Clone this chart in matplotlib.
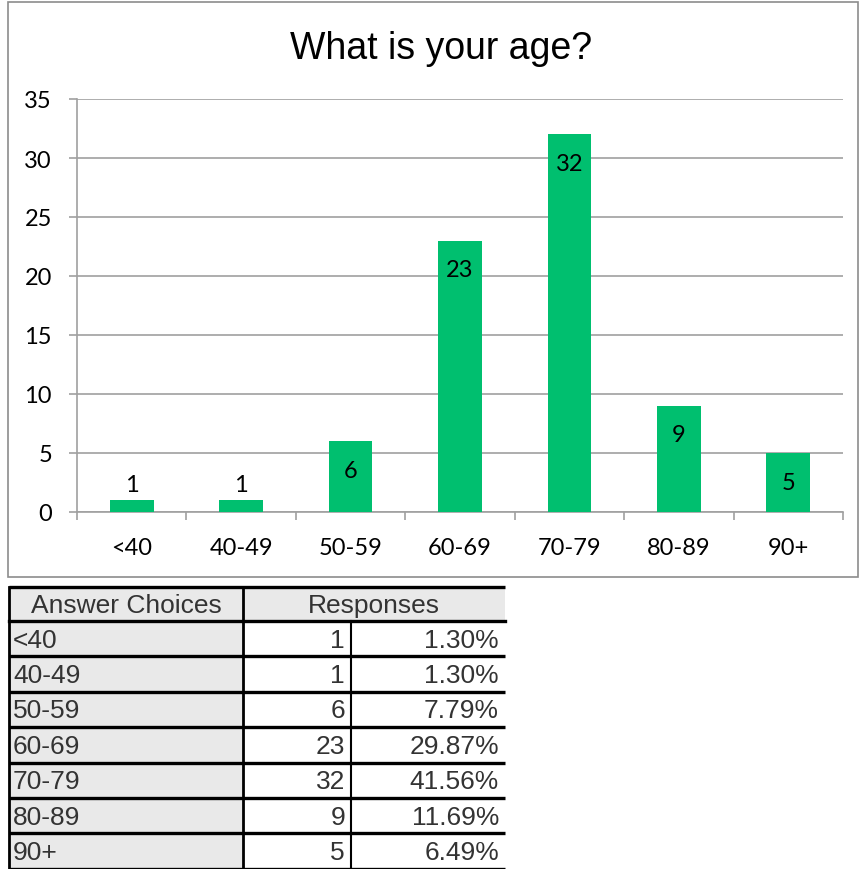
import matplotlib
matplotlib.use("Agg")
import matplotlib.pyplot as plt
from matplotlib.patches import Rectangle

# data
categories = ["<40", "40-49", "50-59", "60-69", "70-79", "80-89", "90+"]
counts = [1, 1, 6, 23, 32, 9, 5]
percents = ["1.30%", "1.30%", "7.79%", "29.87%", "41.56%", "11.69%", "6.49%"]

W, H = 860, 870
green = "#00BF6F"
grid_col = "#a0a0a0"
txt_col = "#333333"

fig = plt.figure(figsize=(W / 100, H / 100), dpi=100)

# overlay in pixel coordinates for the border and the table
ov = fig.add_axes([0, 0, 1, 1])
ov.set_xlim(0, W)
ov.set_ylim(H, 0)
ov.axis("off")

# chart frame
ov.add_patch(Rectangle((8, 3), 850, 575, fill=False, ec="#8c8c8c", lw=1.2))

# table
x0, x1, x2, x3 = 9, 243, 351, 505
top, head_h, row_h = 588, 34, 35.4
tfont = dict(family="Liberation Sans", fontsize=19, color=txt_col)

ov.add_patch(Rectangle((x0, top), x3 - x0, head_h, fc="#e9e9e9", ec="none"))
ov.text((x0 + x1) / 2, top + head_h / 2 + 1, "Answer Choices", ha="center", va="center", **tfont)
ov.text((x1 + x3) / 2, top + head_h / 2 + 1, "Responses", ha="center", va="center", **tfont)

for i, (cat, n, p) in enumerate(zip(categories, counts, percents)):
    y = top + head_h + i * row_h
    ov.add_patch(Rectangle((x0, y), x1 - x0, row_h, fc="#e9e9e9", ec="none"))
    ov.text(x0 + 4, y + row_h / 2 + 1, cat, ha="left", va="center", **tfont)
    ov.text(x2 - 6, y + row_h / 2 + 1, str(n), ha="right", va="center", **tfont)
    ov.text(x3 - 6, y + row_h / 2 + 1, p, ha="right", va="center", **tfont)

n_rows = len(categories)
for i in range(n_rows + 1):
    y = top + head_h + i * row_h if i > 0 else top
    ov.plot([x0, x3], [y, y], color="black", lw=2.4, solid_capstyle="butt")
ov.plot([x0, x3], [top + head_h, top + head_h], color="black", lw=2.4)
bottom_y = top + head_h + n_rows * row_h
ov.plot([x0, x0], [top, bottom_y], color="black", lw=2)
ov.plot([x1, x1], [top, bottom_y], color="black", lw=2)
ov.plot([x2, x2], [top + head_h, bottom_y], color="black", lw=1.5)

# bar chart
ax = fig.add_axes([77 / W, 1 - 513 / H, (843 - 77) / W, (513 - 100) / H])
xs = list(range(len(categories)))
bars = ax.bar(xs, counts, width=0.4, color=green, zorder=3)

for b, v in zip(bars, counts):
    cx = b.get_x() + b.get_width() / 2
    if v >= 3:
        ax.annotate(str(v), (cx, v), xytext=(0, -21), textcoords="offset points",
                    ha="center", va="center", fontsize=17, family="Lato", color="black", zorder=4)
    else:
        ax.annotate(str(v), (cx, v), xytext=(0, 11), textcoords="offset points",
                    ha="center", va="center", fontsize=17, family="Lato", color="black", zorder=4)

ax.set_xlim(-0.5, len(categories) - 0.5)
ax.set_ylim(0, 35)
ax.set_yticks(range(0, 36, 5))
ax.set_xticks(xs)
ax.set_xticklabels(categories, family="Lato", fontsize=17)
ax.set_xticks([i - 0.5 for i in range(len(categories) + 1)], minor=True)
ax.tick_params(axis="x", which="major", length=0, pad=18)
ax.tick_params(axis="x", which="minor", length=6, color=grid_col, width=1.2)
ax.tick_params(axis="y", length=6, color=grid_col, width=1.2, pad=12)
for lab in ax.get_yticklabels():
    lab.set_family("Lato")
    lab.set_fontsize(17)
ax.grid(axis="y", color=grid_col, lw=1.2, zorder=0)
for s in ["top", "right"]:
    ax.spines[s].set_visible(False)
for s in ["left", "bottom"]:
    ax.spines[s].set_color(grid_col)
    ax.spines[s].set_linewidth(1.2)
ax.set_facecolor("none")

fig.text(441 / W, 1 - 49 / H, "What is your age?", ha="center", va="center",
         family="Liberation Sans", fontsize=27, color="black")

fig.savefig("out.png", dpi=100)
